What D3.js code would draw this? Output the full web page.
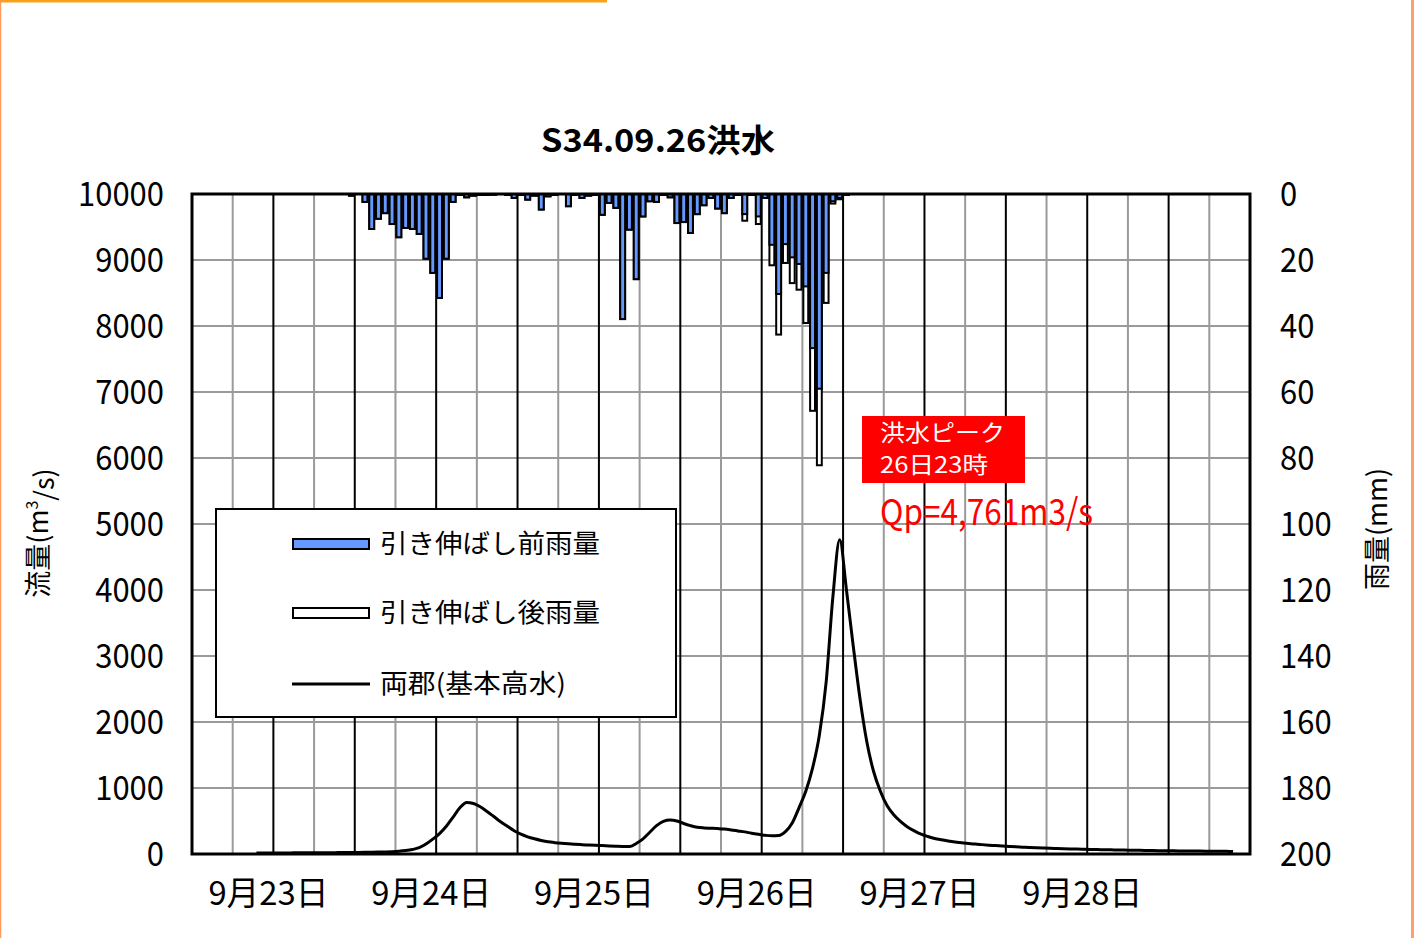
<!DOCTYPE html>
<html><head><meta charset="utf-8">
<script src="https://cdn.jsdelivr.net/npm/d3@7"></script>
<style>
html,body{margin:0;padding:0;background:#fff;}
text{font-family:"Noto Sans CJK JP","Noto Sans",sans-serif;}
</style></head>
<body>
<svg id="chart" width="1415" height="938"></svg>
<script>
// ---- data ----
const title = "S34.09.26洪水";
const dayLabels = ["9月23日","9月24日","9月25日","9月26日","9月27日","9月28日"];
const flowTicks = [0,1000,2000,3000,4000,5000,6000,7000,8000,9000,10000];
const rainTicks = [0,20,40,60,80,100,120,140,160,180,200];
const hoursTotal = 156; // 9/23 0:00 .. 9/29 12:00, hourly categories

// rainfall (mm/h), first value is hour 23 of 9/23
const rainStartHour = 23;
const rainBefore = [0.5,0,2.4,10.6,7.5,5.8,9.1,13.1,10.3,10.6,12.1,19.6,23.9,31.5,19.6,2.4,0.3,1.0,0.5,0.3,0.3,0.2,0,0.3,1.2,0.3,1.7,0.5,4.7,0.7,0.3,0,3.7,0.3,1.2,0.5,0.3,6.3,2.7,4.2,37.9,10.8,25.8,6.8,2.2,2.4,0.3,1.0,8.8,8.5,11.8,6.1,3.4,1.2,4.4,5.8,1.2,0.3,6.1,0.3,6.8,1.2,15.4,30.3,15.2,19.2,21.2,28.0,46.7,59.0,23.9,2.2,1.2,0.3];
const rainAfter  = [0.5,0,2.4,10.6,7.5,5.8,9.1,13.1,10.3,10.6,12.1,19.6,23.9,31.5,19.6,2.4,0.3,1.0,0.5,0.3,0.3,0.2,0,0.3,1.2,0.3,1.7,0.5,4.7,0.7,0.3,0,3.7,0.3,1.2,0.5,0.3,6.3,2.7,4.2,37.9,10.8,25.8,6.8,2.2,2.4,0.3,1.0,8.8,8.5,11.8,6.1,3.4,1.2,4.4,5.8,1.2,0.3,8.1,0.3,9.1,1.2,21.6,42.6,20.9,27.0,29.0,39.1,65.7,82.2,33.0,2.9,1.6,0.3];

// discharge (m3/s), first value is hour 9 of 9/23
const flowStartHour = 9;
const flow = [15,15,16,16,17,17,18,18,19,19,20,20,21,22,23,24,25,27,29,
  32,36,42,52,68,95,150,225,310,420,560,700,780,765,715,645,568,490,420,352,300,260,230,205,185,172,162,154,147,141,136,131,127,123,119,115,112,160,230,330,430,495,515,500,462,430,405,395,390,385,378,365,350,335,315,298,283,275,280,340,470,700,950,1300,1800,2600,3900,4761,4000,3150,2350,1700,1250,950,730,590,490,410,350,300,265,
  235,215,198,183,170,160,150,142,134,127,120,114,108,103,98,94,90,86,83,80,77,74,71,69,67,65,63,61,59,57,56,54,53,51,50,49,47,46,45,44,43,42,41,40,39];

const legendItems = ["引き伸ばし前雨量","引き伸ばし後雨量","両郡(基本高水)"];
const peakLabel = ["洪水ピーク","26日23時"];
const peakText = "Qp=4,761m3/s";

// ---- layout ----
const L = 192, R = 1250, T = 194, B = 854;
const svg = d3.select("#chart");

const x = d3.scaleLinear().domain([0, hoursTotal]).range([L, R]);
const yQ = d3.scaleLinear().domain([0, 10000]).range([B, T]);
const yR = d3.scaleLinear().domain([0, 200]).range([T, B]);
const step = x(1) - x(0);

// page frame (orange)
svg.append("rect").attr("x",0).attr("y",0).attr("width",1415).attr("height",938).attr("fill","#fff");
svg.append("line").attr("x1",0).attr("x2",607).attr("y1",1).attr("y2",1).attr("stroke","#F7A21B").attr("stroke-width",3);
svg.append("line").attr("x1",0.5).attr("x2",0.5).attr("y1",0).attr("y2",938).attr("stroke","#FF9A5C").attr("stroke-width",1.5);
svg.append("line").attr("x1",1412.5).attr("x2",1412.5).attr("y1",0).attr("y2",938).attr("stroke","#FF9E6E").attr("stroke-width",3);

// grid
const g = svg.append("g");
g.selectAll(".hg").data(flowTicks.slice(1,-1)).join("line")
  .attr("x1",L).attr("x2",R).attr("y1",d=>yQ(d)).attr("y2",d=>yQ(d))
  .attr("stroke","#9a9a9a").attr("stroke-width",2);
const vTicks = d3.range(6, hoursTotal, 6);
g.selectAll(".vg").data(vTicks).join("line")
  .attr("x1",d=>x(d)).attr("x2",d=>x(d)).attr("y1",T).attr("y2",B)
  .attr("stroke",d=>d%12===0?"#000":"#9a9a9a").attr("stroke-width",2);

// rain bars
const barW = step*0.72;
const rainG = svg.append("g");
rainG.selectAll(".ra").data(rainAfter).join("rect")
  .attr("x",(d,i)=>x(rainStartHour+i+0.5)-barW/2).attr("y",T)
  .attr("width",barW).attr("height",d=>yR(d)-T)
  .attr("fill","#fff").attr("stroke","#000").attr("stroke-width",2)
  .attr("visibility",d=>d>0?"visible":"hidden");
rainG.selectAll(".rb").data(rainBefore).join("rect")
  .attr("x",(d,i)=>x(rainStartHour+i+0.5)-barW/2).attr("y",T)
  .attr("width",barW).attr("height",d=>yR(d)-T)
  .attr("fill","#6699FF").attr("stroke","#000").attr("stroke-width",2)
  .attr("visibility",d=>d>0?"visible":"hidden");

// hydrograph
const line = d3.line().x((d,i)=>x(flowStartHour+i+0.5)).y(d=>yQ(d)).curve(d3.curveMonotoneX);
svg.append("path").datum(flow).attr("d",line).attr("fill","none").attr("stroke","#000").attr("stroke-width",3);

// frame
svg.append("rect").attr("x",L).attr("y",T).attr("width",R-L).attr("height",B-T)
  .attr("fill","none").attr("stroke","#000").attr("stroke-width",3);

// left axis labels
const numW = 17.2;
svg.selectAll(".yl").data(flowTicks).join("text")
  .attr("x",164).attr("y",d=>yQ(d)).attr("dy","0.36em").attr("text-anchor","end")
  .attr("font-size",34).attr("fill","#000")
  .attr("textLength",d=>String(d).length*numW).attr("lengthAdjust","spacingAndGlyphs")
  .text(d=>d);
// right axis labels
svg.selectAll(".yr").data(rainTicks).join("text")
  .attr("x",1280).attr("y",d=>yR(d)).attr("dy","0.36em").attr("text-anchor","start")
  .attr("font-size",34).attr("fill","#000")
  .attr("textLength",d=>String(d).length*numW).attr("lengthAdjust","spacingAndGlyphs")
  .text(d=>d);
// day labels
svg.selectAll(".xl").data(dayLabels).join("text")
  .attr("x",(d,i)=>x(i*24+12)-65).attr("y",893).attr("dy","0.36em")
  .attr("font-size",33).attr("fill","#000")
  .attr("textLength",120).attr("lengthAdjust","spacingAndGlyphs")
  .text(d=>d);

// title
svg.append("text").attr("x",541).attr("y",140).attr("dy","0.36em")
  .attr("font-size",32).attr("font-weight","bold").attr("fill","#000")
  .attr("textLength",234).attr("lengthAdjust","spacingAndGlyphs").text(title);

// axis titles
const lt = svg.append("text").attr("transform","translate(38,533) rotate(-90)")
  .attr("text-anchor","middle").attr("dy","0.36em").attr("font-size",27).attr("fill","#000");
lt.append("tspan").text("流量(m");
lt.append("tspan").attr("font-size",16).attr("dy","-0.6em").text("3");
lt.append("tspan").attr("dy","0.6em").text("/s)");
svg.append("text").attr("transform","translate(1377,529) rotate(-90)")
  .attr("text-anchor","middle").attr("dy","0.36em").attr("font-size",27).attr("fill","#000")
  .attr("textLength",122).attr("lengthAdjust","spacingAndGlyphs")
  .text("雨量(mm)");

// legend
const lg = svg.append("g");
lg.append("rect").attr("x",216).attr("y",509).attr("width",460).attr("height",208)
  .attr("fill","#fff").attr("stroke","#000").attr("stroke-width",2);
const legY = [544, 613, 684];
lg.append("rect").attr("x",293).attr("y",legY[0]-5).attr("width",76).attr("height",10)
  .attr("fill","#6699FF").attr("stroke","#000").attr("stroke-width",2);
lg.append("rect").attr("x",293).attr("y",legY[1]-5).attr("width",76).attr("height",10)
  .attr("fill","#fff").attr("stroke","#000").attr("stroke-width",2);
lg.append("line").attr("x1",292).attr("x2",370).attr("y1",legY[2]).attr("y2",legY[2])
  .attr("stroke","#000").attr("stroke-width",3);
lg.selectAll(".lt").data(legendItems).join("text")
  .attr("x",380).attr("y",(d,i)=>legY[i]).attr("dy","0.36em")
  .attr("font-size",26).attr("fill","#000")
  .attr("textLength",(d,i)=>i===2?186:220).attr("lengthAdjust","spacingAndGlyphs")
  .text(d=>d);

// peak annotation
svg.append("rect").attr("x",862).attr("y",416).attr("width",163).attr("height",67).attr("fill","#FF0000");
svg.selectAll(".pk").data(peakLabel).join("text")
  .attr("x",880).attr("y",(d,i)=>433+i*32).attr("dy","0.36em")
  .attr("font-size",23).attr("fill","#fff")
  .attr("textLength",(d,i)=>i===0?125:108).attr("lengthAdjust","spacingAndGlyphs")
  .text(d=>d);
svg.append("text").attr("x",880).attr("y",512).attr("dy","0.36em")
  .attr("font-size",36).attr("fill","#FF0000")
  .attr("textLength",213).attr("lengthAdjust","spacingAndGlyphs").text(peakText);
</script>
</body></html>
